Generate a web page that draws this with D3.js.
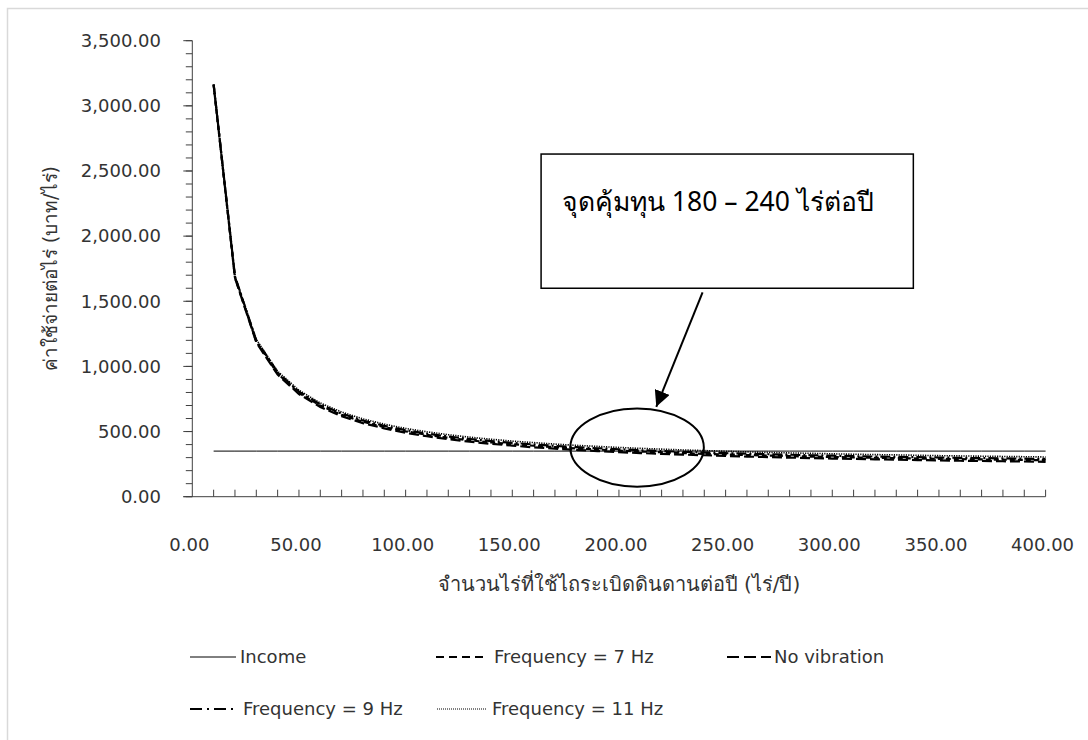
<!DOCTYPE html>
<html>
<head>
<meta charset="utf-8">
<script src="https://cdn.jsdelivr.net/npm/d3@7"></script>
<style>
  html, body { margin: 0; padding: 0; background: #fff; }
  svg { display: block; }
  text { font-family: "DejaVu Sans", "Noto Sans", sans-serif; fill: #333; }
</style>
</head>
<body>
<svg id="chart" width="1088" height="740"></svg>
<script>
// ---------- data ----------
const acres = [10,20,30,40,50,60,70,80,90,100,110,120,130,140,150,160,170,180,190,200,
               210,220,230,240,250,260,270,280,290,300,310,320,330,340,350,360,370,380,390,400];
const income = [350,350,350,350,350,350,350,350,350,350,350,350,350,350,350,350,350,350,350,350,
                350,350,350,350,350,350,350,350,350,350,350,350,350,350,350,350,350,350,350,350];
const freq7 = [3160,1683,1191,945,797,699,628,575,534,502,475,452,433,417,403,391,380,370,362,354,
               347,341,335,329,324,320,316,312,308,305,301,299,296,293,291,288,286,284,282,280];
const noVibration = [3165,1679,1184,937,788,689,618,565,524,491,464,441,422,406,392,379,369,359,350,342,
                     335,329,323,318,313,308,304,300,296,293,290,287,284,281,279,276,274,272,270,268];
const freq9 = [3165,1691,1199,954,806,708,638,585,544,511,484,462,443,427,413,401,390,380,372,364,
               357,350,345,339,334,330,326,322,318,315,311,308,306,303,301,298,296,294,292,290];
const freq11 = [3155,1694,1206,963,817,719,650,597,557,524,498,476,457,441,427,415,404,394,386,378,
                371,365,359,354,349,344,340,336,333,329,326,323,321,318,315,313,311,309,307,305];

const xTicks = [0,50,100,150,200,250,300,350,400];
const yTicks = [0,500,1000,1500,2000,2500,3000,3500];
const xTitle = "จำนวนไร่ที่ใช้ไถระเบิดดินดานต่อปี (ไร่/ปี)";
const yTitle = "ค่าใช้จ่ายต่อไร่ (บาท/ไร่)";
const annotationText = "จุดคุ้มทุน 180 – 240 ไร่ต่อปี";

const seriesNames = ["Income", "Frequency = 7 Hz", "No vibration", "Frequency = 9 Hz", "Frequency = 11 Hz"];
const seriesValues = [income, freq7, noVibration, freq9, freq11];
const seriesDash = [null, "5,3", "10,4", "10,3,2,3", "1.2,1.2"];
const seriesWidth = [1, 2.2, 2.2, 2.2, 1.6];
const legendDash = [null, "8,5", "12,5", "12,5,2,5", "1,1"];

// ---------- layout ----------
const svg = d3.select("#chart");
const x = d3.scaleLinear().domain([0, 400]).range([192.3, 1045.6]);
const y = d3.scaleLinear().domain([0, 3500]).range([496.7, 40.7]);
const axisColor = "#404040";

// chart area border
svg.append("rect").attr("x", 7.5).attr("y", 8.5).attr("width", 1200).attr("height", 900)
  .attr("fill", "none").attr("stroke", "#d9d9d9").attr("stroke-width", 1.5);

// y axis
const yAxisG = svg.append("g");
yAxisG.selectAll("line.minor").data(d3.range(0, 3501, 100)).enter().append("line")
  .attr("x1", x(0) - 6.5).attr("x2", x(0))
  .attr("y1", d => y(d)).attr("y2", d => y(d))
  .attr("stroke", axisColor).attr("stroke-width", 1);
yAxisG.selectAll("line.major").data(yTicks).enter().append("line")
  .attr("x1", x(0) - 9).attr("x2", x(0))
  .attr("y1", d => y(d)).attr("y2", d => y(d))
  .attr("stroke", axisColor).attr("stroke-width", 1);
yAxisG.append("line").attr("x1", x(0)).attr("x2", x(0)).attr("y1", y(0)).attr("y2", y(3500))
  .attr("stroke", axisColor).attr("stroke-width", 1);
const fmt = d3.format(",.2f");
yAxisG.selectAll("text").data(yTicks).enter().append("text")
  .attr("x", 161).attr("y", d => y(d)).attr("dy", "0.35em")
  .attr("text-anchor", "end").attr("font-size", 18).text(d => fmt(d));

// x axis
const xAxisG = svg.append("g");
xAxisG.append("line").attr("x1", x(0) - 9).attr("x2", x(400)).attr("y1", y(0)).attr("y2", y(0))
  .attr("stroke", axisColor).attr("stroke-width", 1);
xAxisG.selectAll("line.tick").data(d3.range(10, 401, 10)).enter().append("line")
  .attr("x1", d => x(d)).attr("x2", d => x(d))
  .attr("y1", y(0)).attr("y2", y(0) - 7)
  .attr("stroke", axisColor).attr("stroke-width", 1);
xAxisG.selectAll("text").data(xTicks).enter().append("text")
  .attr("x", d => x(d) - 3).attr("y", 551)
  .attr("text-anchor", "middle").attr("font-size", 18).text(d => fmt(d));

// axis titles
svg.append("text").attr("x", (x(0) + x(400)) / 2).attr("y", 591)
  .attr("text-anchor", "middle").attr("font-size", 20).text(xTitle);
svg.append("text").attr("transform", `translate(57, ${(y(0) + y(3500)) / 2}) rotate(-90)`)
  .attr("text-anchor", "middle").attr("font-size", 19).text(yTitle);

// series lines
const line = d3.line().x((d, i) => x(acres[i])).y(d => y(d));
seriesValues.forEach((vals, k) => {
  svg.append("path").datum(vals)
    .attr("d", line)
    .attr("fill", "none")
    .attr("stroke", "#000")
    .attr("stroke-width", seriesWidth[k])
    .attr("stroke-dasharray", seriesDash[k]);
});

// annotation: ellipse, box, arrow
svg.append("defs").append("marker").attr("id", "arrow")
  .attr("viewBox", "0 0 10 10").attr("refX", 10).attr("refY", 5)
  .attr("markerWidth", 16).attr("markerHeight", 16).attr("orient", "auto")
  .attr("markerUnits", "userSpaceOnUse")
  .append("path").attr("d", "M0,0 L10,5 L0,10 Z").attr("fill", "#000");

svg.append("ellipse").attr("cx", x(208.5)).attr("cy", y(377))
  .attr("rx", x(31.3) - x(0)).attr("ry", y(0) - y(300))
  .attr("fill", "none").attr("stroke", "#000").attr("stroke-width", 2);

svg.append("rect").attr("x", x(163.5)).attr("y", y(2630)).attr("width", x(174.5) - x(0)).attr("height", y(0) - y(1030))
  .attr("fill", "#fff").attr("stroke", "#000").attr("stroke-width", 1.5);
svg.append("text").attr("x", x(173.3)).attr("y", y(2190)).attr("font-size", 26.5)
  .style("font-family", "'Noto Sans', 'DejaVu Sans', sans-serif").style("fill", "#000")
  .text(annotationText);

svg.append("line").attr("x1", x(239.2)).attr("y1", y(1568)).attr("x2", x(217.5)).attr("y2", y(690))
  .attr("stroke", "#000").attr("stroke-width", 2).attr("marker-end", "url(#arrow)");

// legend
const legendItems = [
  {k: 0, x1: 190, x2: 236, tx: 240, ly: 657},
  {k: 1, x1: 436, x2: 488, tx: 494, ly: 657},
  {k: 2, x1: 727, x2: 771, tx: 774, ly: 657},
  {k: 3, x1: 190, x2: 238, tx: 243, ly: 709},
  {k: 4, x1: 437, x2: 487, tx: 492, ly: 709}
];
const lg = svg.append("g");
legendItems.forEach(it => {
  lg.append("line").attr("x1", it.x1).attr("x2", it.x2).attr("y1", it.ly).attr("y2", it.ly)
    .attr("stroke", "#000").attr("stroke-width", it.k === 0 ? 1 : (it.k === 4 ? 1 : 2))
    .attr("stroke-dasharray", legendDash[it.k]);
  lg.append("text").attr("x", it.tx).attr("y", it.ly).attr("dy", "0.35em")
    .attr("font-size", 18).text(seriesNames[it.k]);
});
</script>
</body>
</html>
